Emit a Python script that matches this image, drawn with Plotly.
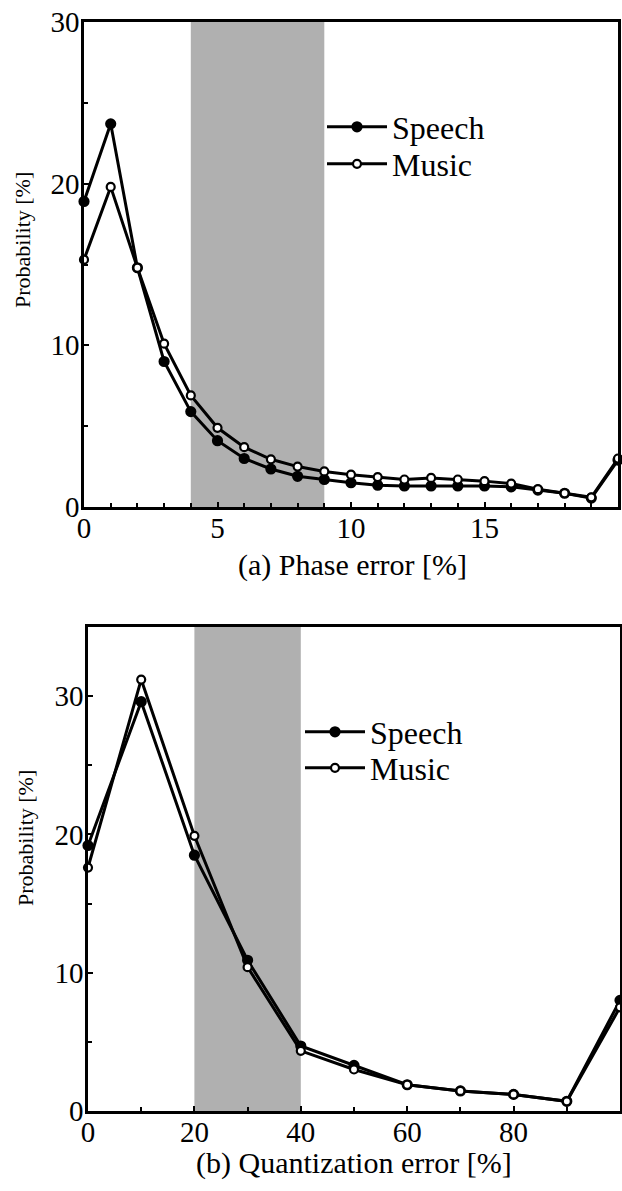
import plotly.graph_objects as go

W, H = 622, 1191

# ---- data (a) phase error ----
phase_x = list(range(0, 21))
phase_speech = [18.9, 23.7, 14.8, 9.0, 5.9, 4.1, 3.0, 2.35, 1.9, 1.7, 1.5, 1.35, 1.3, 1.3, 1.3, 1.3, 1.25, 1.05, 0.85, 0.55, 2.9]
phase_music = [15.3, 19.8, 14.8, 10.1, 6.9, 4.9, 3.7, 2.95, 2.5, 2.2, 2.0, 1.85, 1.7, 1.8, 1.7, 1.6, 1.45, 1.1, 0.85, 0.6, 3.0]
phase_band = [4, 9]
phase_xticks = [0, 5, 10, 15]
phase_yticks = [0, 10, 20, 30]

# ---- data (b) quantization error ----
quant_x = [0, 10, 20, 30, 40, 50, 60, 70, 80, 90, 100]
quant_speech = [19.2, 29.6, 18.5, 10.9, 4.7, 3.3, 1.9, 1.45, 1.2, 0.7, 8.0]
quant_music = [17.6, 31.2, 19.9, 10.4, 4.35, 3.0, 1.9, 1.45, 1.2, 0.7, 7.5]
quant_band = [20, 40]
quant_xticks = [0, 20, 40, 60, 80]
quant_yticks = [0, 10, 20, 30]

FONT = "Liberation Serif, serif"
LW = 3

def px_x(p):
    return p / W

def px_y(p):
    return 1 - p / H

fig = go.Figure()

def add_series(x, y, name, filled, xa, ya, legend):
    fig.add_trace(go.Scatter(
        x=x, y=y, name=name, mode="lines+markers", showlegend=True,
        line=dict(color="black", width=LW),
        marker=dict(symbol="circle", size=9 if filled else 8,
                    color="black" if filled else "white",
                    line=dict(color="black", width=2.2)),
        xaxis=xa, yaxis=ya, legend=legend, cliponaxis=False,
    ))

add_series(phase_x, phase_speech, "Speech", True, "x", "y", "legend")
add_series(phase_x, phase_music, "Music", False, "x", "y", "legend2")
add_series(quant_x, quant_speech, "Speech", True, "x2", "y2", "legend3")
add_series(quant_x, quant_music, "Music", False, "x2", "y2", "legend4")

band_color = "#b0b0b0"
fig.add_shape(type="rect", xref="x", yref="y", x0=phase_band[0], x1=phase_band[1], y0=0, y1=30,
              fillcolor=band_color, line=dict(width=0), layer="below")
fig.add_shape(type="rect", xref="x2", yref="y2", x0=quant_band[0], x1=quant_band[1], y0=0, y1=35,
              fillcolor=band_color, line=dict(width=0), layer="below")

tickfont = dict(family=FONT, size=29, color="black")
common_axis = dict(showline=True, linecolor="black", linewidth=2.5, mirror=True,
                   ticks="inside", ticklen=5, tickwidth=2, tickcolor="black",
                   showgrid=False, zeroline=False, tickfont=tickfont, automargin=False)
minor_x = dict(ticks="inside", ticklen=4, tickwidth=2, tickcolor="black")

def leg(xp, yp):
    return dict(x=px_x(xp), y=px_y(yp), xanchor="left", yanchor="middle",
                bgcolor="rgba(0,0,0,0)", font=dict(family=FONT, size=32, color="black"),
                itemwidth=60, visible=True)

fig.update_layout(
    width=W, height=H, showlegend=True,
    margin=dict(l=0, r=0, t=0, b=0, autoexpand=False),
    paper_bgcolor="white", plot_bgcolor="white",
    font=dict(family=FONT, color="black"),
    xaxis=dict(domain=[px_x(84), px_x(618)], range=[0, 20], anchor="y",
               tickvals=phase_xticks, ticklabelstandoff=-7,
               minor=dict(dtick=1, **minor_x), **common_axis),
    yaxis=dict(domain=[px_y(507), px_y(22)], range=[0, 30], anchor="x",
               tickvals=phase_yticks, ticklabelstandoff=-4,
               minor=dict(dtick=5, **minor_x), **common_axis),
    xaxis2=dict(domain=[px_x(88), px_x(620)], range=[0, 100], anchor="y2",
                tickvals=quant_xticks, ticklabelstandoff=-7,
                minor=dict(dtick=10, **minor_x), **common_axis),
    yaxis2=dict(domain=[px_y(1111), px_y(627)], range=[0, 35], anchor="x2",
                tickvals=quant_yticks, ticklabelstandoff=-4,
                minor=dict(dtick=5, **minor_x), **common_axis),
    legend=leg(322, 127),
    legend2=leg(322, 164),
    legend3=leg(300, 732),
    legend4=leg(300, 768),
    annotations=[
        dict(text="Probability [%]", textangle=-90, x=px_x(23), y=px_y(240),
             xref="paper", yref="paper", xanchor="center", yanchor="middle", showarrow=False,
             font=dict(family=FONT, size=22, color="black")),
        dict(text="Probability [%]", textangle=-90, x=px_x(25), y=px_y(838),
             xref="paper", yref="paper", xanchor="center", yanchor="middle", showarrow=False,
             font=dict(family=FONT, size=22, color="black")),
        dict(text="(a) Phase error [%]", x=px_x(352), y=px_y(565),
             xref="paper", yref="paper", xanchor="center", yanchor="middle", showarrow=False,
             font=dict(family=FONT, size=30, color="black")),
        dict(text="(b) Quantization error [%]", x=px_x(354), y=px_y(1163),
             xref="paper", yref="paper", xanchor="center", yanchor="middle", showarrow=False,
             font=dict(family=FONT, size=30, color="black")),
    ],
)

fig.write_html("out.html")
